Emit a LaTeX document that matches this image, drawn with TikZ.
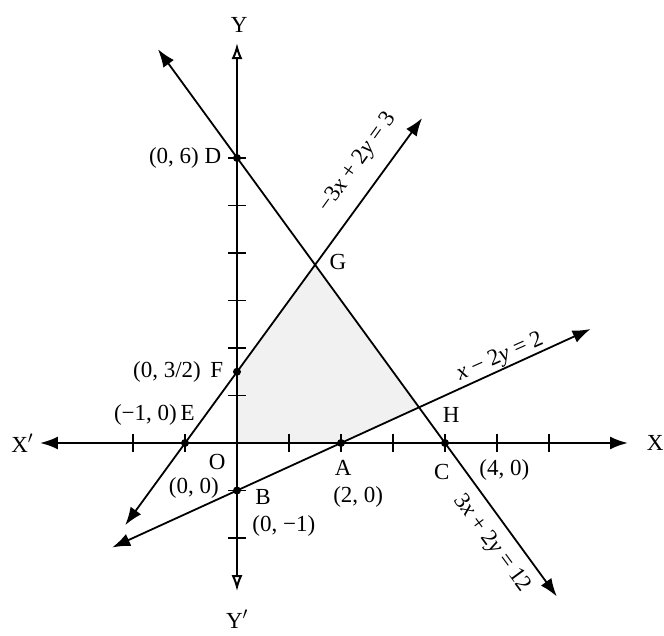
\documentclass[tikz,border=0pt]{standalone}
\usepackage{fontspec}
\setmainfont{Liberation Serif}
\usetikzlibrary{arrows.meta}
\begin{document}
\begin{tikzpicture}[x=52pt,y=47.5pt,
  every node/.style={font=\fontsize{23}{26}\selectfont, inner sep=0.5pt},
  axis/.style={line width=2.4pt, {Latex[length=18pt,width=13pt]}-{Latex[length=18pt,width=13pt]}},
  yaxis/.style={line width=2pt, {Latex[open,length=16pt,width=11pt]}-{Latex[open,length=16pt,width=11pt]}},
  graphline/.style={line width=1.8pt, {Latex[length=18pt,width=13pt]}-{Latex[length=18pt,width=13pt]}},
  tick/.style={line width=1.8pt},
  pt/.style={circle, fill=black, inner sep=0pt, minimum size=8pt},
  region/.style={fill=gray!11}
]
\useasboundingbox (-237pt,-193pt) rectangle (427pt,443pt);

% key points
\coordinate (O) at (0,0);
\coordinate (Dp) at (0,6);
\coordinate (Fp) at (0,1.5);
\coordinate (Ep) at (-1,0);
\coordinate (Bp) at (0,-1);
\coordinate (Ap) at (2,0);
\coordinate (Cp) at (4,0);
\coordinate (Gp) at (1.5,3.75);
\coordinate (Hp) at (3.5,0.75);

% feasible region
\fill[region] (O) -- (Ap) -- (Hp) -- (Gp) -- (Fp) -- cycle;

% axis ends
\coordinate (xl) at (-3.79,0);
\coordinate (xr) at (7.52,0);
\coordinate (yt) at (0,8.42);
\coordinate (yb) at (0,-3.12);

\draw[axis] (xl) -- (xr);
\draw[yaxis] (yb) -- (yt);

% ticks
\foreach \i in {-2,-1,1,2,3,4,5,6}
  \draw[tick] (\i,-0.18) -- (\i,0.18);
\foreach \j in {-2,-1,1,2,3,4,5,6}
  \draw[tick] (-0.17,\j) -- (0.17,\j);

% line ends
\coordinate (l1a) at (-1.52,8.29);
\coordinate (l1b) at (6.15,-3.23);
\coordinate (l2a) at (-2.15,-1.73);
\coordinate (l2b) at (3.56,6.84);
\coordinate (l3a) at (-2.4,-2.2);
\coordinate (l3b) at (6.8,2.4);

\draw[graphline] (l1a) -- (l1b);
\draw[graphline] (l2a) -- (l2b);
\draw[graphline] (l3a) -- (l3b);

% dots
\node[pt] (D) at (Dp) {};
\node[pt] (F) at (Fp) {};
\node[pt] (E) at (Ep) {};
\node[pt] (B) at (Bp) {};
\node[pt] (A) at (Ap) {};
\node[pt] (C) at (Cp) {};

% labels
\node[anchor=east] (lD) at (-0.29,6.0) {(0, 6) D};
\node[anchor=east] (lF) at (-0.25,1.5) {(0, 3/2)\, F};
\node[anchor=east] (lE) at (-0.8,0.58) {(−1, 0)\,E};
\node (lG) at (1.94,3.8) {G};
\node (lH) at (4.12,0.6) {H};
\node (lO) at (-0.38,-0.40) {O};
\node (l00) at (-0.83,-0.95) {(0, 0)};
\node (lB) at (0.5,-1.14) {B};
\node (lB2) at (0.9,-1.74) {(0, −1)};
\node (lA) at (2.04,-0.52) {A};
\node (lA2) at (2.33,-1.14) {(2, 0)};
\node (lC) at (3.94,-0.62) {C};
\node (lC2) at (5.14,-0.56) {(4, 0)};
\node (lX) at (8.04,0) {X};
\node (lX2) at (-4.13,0) {X$'$};
\node (lY) at (0.04,8.8) {Y};
\node (lY2) at (0,-3.7) {Y$'$};

\node[rotate=54.2] (eq1) at (2.33,5.9) {−3\textit{x} + 2\textit{y} = 3};
\node[rotate=24] (eq2) at (5.06,1.8) {\textit{x} − 2\textit{y} = 2};
\node[rotate=-53.7] (eq3) at (4.9,-2.12) {3\textit{x} + 2\textit{y} = 12};
\end{tikzpicture}
\end{document}
